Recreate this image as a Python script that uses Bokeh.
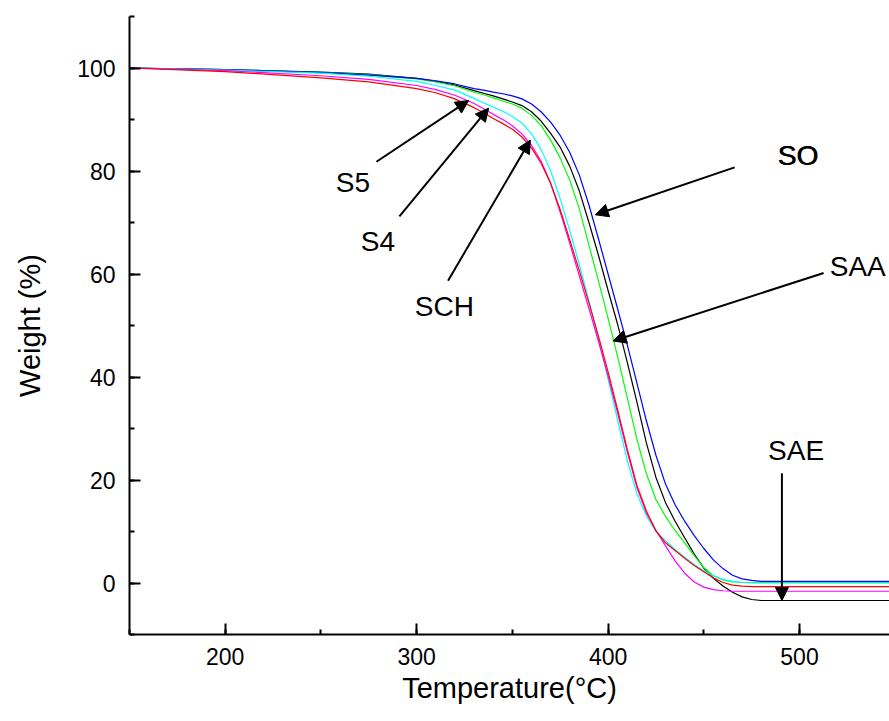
from bokeh.plotting import figure
from bokeh.models import Arrow, NormalHead, Range1d, SingleIntervalTicker, ColumnDataSource
from bokeh.core.properties import value
from bokeh.embed import file_html
from bokeh.resources import INLINE

# ---------------- data ----------------
temperature = [150, 200, 250, 275, 300, 310, 320, 330, 335, 340, 345, 350, 355, 360, 365,
               370, 375, 380, 385, 390, 395, 400, 405, 410, 415, 420, 425, 430, 435, 440,
               445, 450, 455, 460, 465, 470, 475, 480, 490, 500, 547]

weight_so = [100.0, 99.7, 99.1, 98.6, 98.0, 97.5, 96.9, 96.0, 95.7, 95.3, 95.0, 94.6, 94.0, 93.0, 91.5,
             89.5, 86.9, 83.6, 79.2, 73.4, 66.8, 60.0, 53.2, 46.3, 38.9, 31.5, 24.8, 19.2, 15.2, 12.0,
             9.2, 6.7, 4.5, 2.8, 1.5, 0.8, 0.5, 0.3, 0.3, 0.3, 0.3]

weight_sae = [100.0, 99.7, 99.2, 98.8, 98.0, 97.4, 96.7, 95.6, 95.1, 94.6, 94.0, 93.4, 92.7, 91.5, 89.7,
              87.3, 84.6, 80.9, 76.1, 70.0, 63.6, 56.8, 50.2, 42.9, 35.2, 27.2, 20.5, 15.6, 12.0, 8.8,
              5.6, 2.9, 0.9, -0.6, -1.8, -2.7, -3.2, -3.4, -3.4, -3.4, -3.4]

weight_saa = [100.0, 99.7, 99.1, 98.7, 97.9, 97.3, 96.5, 95.3, 94.8, 94.2, 93.6, 93.0, 92.2, 90.8, 88.8,
              86.0, 82.5, 78.2, 72.6, 65.6, 58.6, 51.4, 43.9, 36.0, 28.0, 21.2, 16.2, 12.9, 10.2, 7.8,
              5.3, 3.0, 1.4, 0.6, 0.2, 0.1, 0.1, 0.1, 0.1, 0.1, 0.1]

weight_sch = [100.0, 99.6, 99.0, 98.4, 97.4, 96.6, 95.7, 94.1, 93.2, 92.4, 91.6, 90.6, 89.3, 87.2, 84.2,
              80.0, 74.6, 68.4, 61.8, 54.8, 47.4, 39.6, 31.6, 23.8, 17.4, 13.0, 10.0, 8.2, 6.5, 5.0,
              3.6, 2.4, 1.4, 0.7, 0.3, 0.1, 0.0, 0.0, 0.0, 0.0, 0.0]

weight_s4 = [100.0, 99.5, 98.5, 97.8, 96.6, 95.8, 94.7, 93.1, 92.1, 91.0, 90.0, 88.8, 87.2, 85.0, 81.9,
             77.6, 72.0, 65.9, 59.6, 53.3, 46.9, 40.2, 33.0, 25.5, 18.6, 13.6, 10.2, 7.2, 4.3, 1.9,
             0.2, -0.8, -1.3, -1.5, -1.6, -1.6, -1.6, -1.6, -1.6, -1.6, -1.6]

weight_s5 = [100.0, 99.3, 98.1, 97.3, 96.0, 95.2, 94.0, 92.3, 91.3, 90.2, 89.2, 88.1, 86.6, 84.5, 81.5,
             77.6, 72.5, 66.6, 60.6, 54.4, 47.9, 41.0, 33.6, 26.0, 19.0, 14.0, 10.1, 7.8, 6.3, 4.8,
             3.4, 2.2, 1.0, 0.1, -0.4, -0.6, -0.7, -0.7, -0.7, -0.7, -0.7]

# annotation labels (data coordinates) and arrows
label_text = ["S5", "S4", "SCH", "SAA", "SAE"]
label_x = [266.7, 279.8, 314.5, 530.4, 498.2]
label_y = [77.7, 66.3, 53.6, 61.4, 25.8]
so_label_x = [499.1]
so_label_y = [83.0]

arrow_x_start = [279.0, 291.0, 316.4, 466.1, 512.6, 490.8]
arrow_y_start = [81.8, 71.2, 58.7, 80.7, 60.2, 21.3]
arrow_x_end = [327.2, 337.6, 359.4, 393.3, 402.6, 490.8]
arrow_y_end = [93.7, 92.2, 86.0, 71.5, 47.0, -3.4]

x_title = "Temperature(°C)"
y_title = "Weight (%)"

# ---------------- figure ----------------
FONT = "Liberation Sans"

p = figure(width=889, height=721, output_backend="svg", toolbar_location=None,
           x_range=Range1d(150, 547), y_range=Range1d(-10, 110),
           min_border_left=129, min_border_right=0, min_border_top=16, min_border_bottom=87)
p.xgrid.visible = False
p.ygrid.visible = False
p.outline_line_color = None
p.background_fill_color = "white"
p.border_fill_color = "white"

p.xaxis.ticker = SingleIntervalTicker(interval=100, num_minor_ticks=2)
p.yaxis.ticker = SingleIntervalTicker(interval=20, num_minor_ticks=2)

for ax in (p.xaxis, p.yaxis):
    ax.axis_line_width = 2
    ax.axis_line_color = "black"
    ax.major_tick_line_width = 2
    ax.minor_tick_line_width = 2
    ax.major_tick_line_color = "black"
    ax.minor_tick_line_color = "black"
    ax.major_tick_in = 11
    ax.major_tick_out = 0
    ax.minor_tick_in = 5
    ax.minor_tick_out = 0
    ax.major_label_text_font = FONT
    ax.major_label_text_font_size = "23px"
    ax.major_label_text_color = "black"
    ax.axis_label_text_font = FONT
    ax.axis_label_text_font_size = "29px"
    ax.axis_label_text_font_style = "normal"
    ax.axis_label_text_color = "black"

p.xaxis.axis_label = x_title
p.yaxis.axis_label = y_title
p.xaxis.major_label_standoff = 13
p.xaxis.axis_label_standoff = 4
p.yaxis.major_label_standoff = 14
p.yaxis.axis_label_standoff = 28

series = [
    (weight_sae, "#000000"),
    (weight_saa, "#00FF00"),
    (weight_so, "#0000FF"),
    (weight_sch, "#00FFFF"),
    (weight_s4, "#FF00FF"),
    (weight_s5, "#FF0000"),
]
for ys, col in series:
    p.line(temperature, ys, line_color=col, line_width=1.2, line_join="round")

for xs, ys, xe, ye in zip(arrow_x_start, arrow_y_start, arrow_x_end, arrow_y_end):
    p.add_layout(Arrow(end=NormalHead(size=13, fill_color="black", line_color="black", line_width=1),
                       x_start=xs, y_start=ys, x_end=xe, y_end=ye,
                       line_color="black", line_width=2))

lab_src = ColumnDataSource(dict(x=label_x, y=label_y, t=label_text))
p.text(x="x", y="y", text="t", source=lab_src, text_font=value(FONT), text_font_size="28px",
       text_align="center", text_baseline="middle", text_color="black")
# "SO" is drawn slightly heavier in the reference: two copies offset by a fraction of a pixel
for off in (0.0, 0.8):
    p.text(x=so_label_x, y=so_label_y, text=["SO"], text_font=value(FONT), text_font_size="28px",
           x_offset=off, text_align="center", text_baseline="middle", text_color="black")

open("out.html", "w").write(file_html(p, INLINE))
